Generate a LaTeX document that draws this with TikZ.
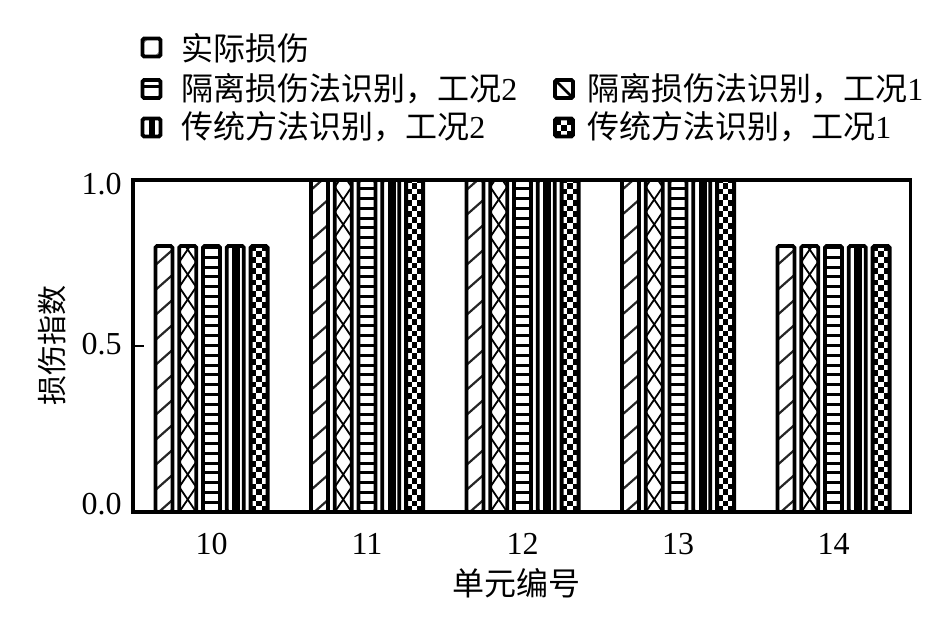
\documentclass[tikz,border=0pt]{standalone}
\usepackage{fontspec}
\setmainfont{Liberation Serif}
\newfontfamily\cjk{Noto Sans CJK SC}

\tikzset{
  barbox/.style={draw=black, line width=1.9pt, rounded corners=0.8pt},
  diagline/.style={line width=1.1pt, black!85},
  crossline/.style={line width=0.9pt, black},
  hline/.style={line width=1.5pt, black},
  legtext/.style={anchor=west, inner sep=0pt},
  ticklab/.style={inner sep=0pt},
}

% fills: #1 = x1, #2 = x2, #3 = ytop, #4 = ybottom (y grows downwards)
\newcommand\fillDiag[4]{%
  \foreach \n in {0,...,14}{\draw[diagline] (#1,{#4+3-25*\n}) -- (#2,{#4+3-25*\n-15});}}
\newcommand\fillCross[4]{%
  \foreach \n in {0,...,14}{%
    \draw[crossline] (#1,{#4-25*\n}) -- (#2,{#4-25*\n-25});
    \draw[crossline] (#2,{#4-25*\n}) -- (#1,{#4-25*\n-25});}}
\newcommand\fillHor[4]{%
  \foreach \n in {1,...,34}{\draw[hline] (#1,{#4-9.8*\n}) -- (#2,{#4-9.8*\n});}}
\newcommand\fillVer[4]{%
  \fill ({(#1+#2)/2-3},#3) rectangle ({(#1+#2)/2+5},#4);}
\newcommand\fillCheck[4]{%
  \foreach \j in {0,...,58}{%
    \pgfmathtruncatemacro\pp{mod(\j,2)}%
    \ifnum\pp=0
      \fill (#1,{#4-\j*5.67}) rectangle ++(5.67,-5.67);
      \fill ({#1+11.33},{#4-\j*5.67}) rectangle ++(5.67,-5.67);
    \else
      \fill ({#1+5.67},{#4-\j*5.67}) rectangle ++(5.67,-5.67);
    \fi}}
\newcommand\patbar[5]{% #1 fill macro, #2 x1, #3 x2, #4 ytop, #5 ybottom
  \begin{scope}
    \clip (#2,#5) rectangle (#3,#4);
    #1{#2}{#3}{#4}{#5}
  \end{scope}
  \draw[barbox] (#2,#5) rectangle (#3,#4);}

\begin{document}
\begin{tikzpicture}[x=0.5pt,y=-0.5pt,font=\fontsize{16}{19}\selectfont]
\useasboundingbox (0,0) rectangle (949,621);

% bars
\foreach \k/\h in {0/246,1/180,2/180,3/180,4/246} {
  \pgfmathsetmacro\c{211.5+155.5*\k}
  \pgfmathsetmacro\aa{\c-47.6-8.5}\pgfmathsetmacro\ab{\c-47.6+8.5}
  \pgfmathsetmacro\ba{\c-23.8-8.5}\pgfmathsetmacro\bb{\c-23.8+8.5}
  \pgfmathsetmacro\ca{\c-8.5}\pgfmathsetmacro\cb{\c+8.5}
  \pgfmathsetmacro\da{\c+23.8-8.5}\pgfmathsetmacro\db{\c+23.8+8.5}
  \pgfmathsetmacro\ea{\c+47.6-8.5}\pgfmathsetmacro\eb{\c+47.6+8.5}
  \patbar{\fillDiag}{\aa}{\ab}{\h}{512}
  \patbar{\fillCross}{\ba}{\bb}{\h}{512}
  \patbar{\fillHor}{\ca}{\cb}{\h}{512}
  \patbar{\fillVer}{\da}{\db}{\h}{512}
  \patbar{\fillCheck}{\ea}{\eb}{\h}{512}
}

% plot frame and tick
\draw[line width=1.6pt] (133,180) rectangle (910.5,512);
\coordinate (t0) at (133,346);
\coordinate (t1) at (144,346);
\draw[line width=1.1pt] (t0) -- (t1);

% y tick labels
\node[ticklab,anchor=east] (y10) at (122,184) {1.0};
\node[ticklab,anchor=east] (y05) at (122,344) {0.5};
\node[ticklab,anchor=east] (y00) at (122,504) {0.0};

% x tick labels
\node[ticklab] (x10) at (211.5,544) {10};
\node[ticklab] (x11) at (367,544) {11};
\node[ticklab] (x12) at (522.5,544) {12};
\node[ticklab] (x13) at (678,544) {13};
\node[ticklab] (x14) at (833.5,544) {14};

% axis titles
\node[ticklab] (xt) at (516,583) {\cjk 单元编号};
\node[ticklab,rotate=90,font=\fontsize{15}{18}\selectfont] (yt) at (52,345) {\cjk 损伤指数};

% legend keys
\begin{scope}
  \clip (142.5,38.5) rectangle (160.5,56.5);
  \draw[line width=1.2pt, black!45] (142.5,43) -- (147,38.5);
  \draw[line width=1.2pt, black!45] (156,56.5) -- (160.5,52);
\end{scope}
\draw[barbox] (142.5,38.5) rectangle (160.5,56.5);

\draw[hline] (142.5,86) -- (160.5,86);
\draw[barbox] (142.5,80) rectangle (160.5,98);

\fill (148.5,118.5) rectangle (155,136.5);
\draw[barbox] (142.5,118.5) rectangle (160.5,136.5);

\begin{scope}
  \clip (555,80) rectangle (573,98);
  \draw[line width=1.3pt] (555,80) -- (573,98);
\end{scope}
\draw[barbox] (555,80) rectangle (573,98);

\begin{scope}
  \clip (555,118.5) rectangle (573,136.5);
  \fill (555,118.5) rectangle ++(6,6);
  \fill (567,118.5) rectangle ++(6,6);
  \fill (561,124.5) rectangle ++(6,6);
  \fill (555,130.5) rectangle ++(6,6);
  \fill (567,130.5) rectangle ++(6,6);
\end{scope}
\draw[barbox] (555,118.5) rectangle (573,136.5);

% legend texts
\node[legtext] (l1) at (181,48) {\cjk 实际损伤};
\node[legtext] (l2) at (181,89) {{\cjk 隔离损伤法识别，工况}2};
\node[legtext] (l3) at (181,127) {{\cjk 传统方法识别，工况}2};
\node[legtext] (l4) at (587,89) {{\cjk 隔离损伤法识别，工况}1};
\node[legtext] (l5) at (587,127) {{\cjk 传统方法识别，工况}1};
\end{tikzpicture}
\end{document}
